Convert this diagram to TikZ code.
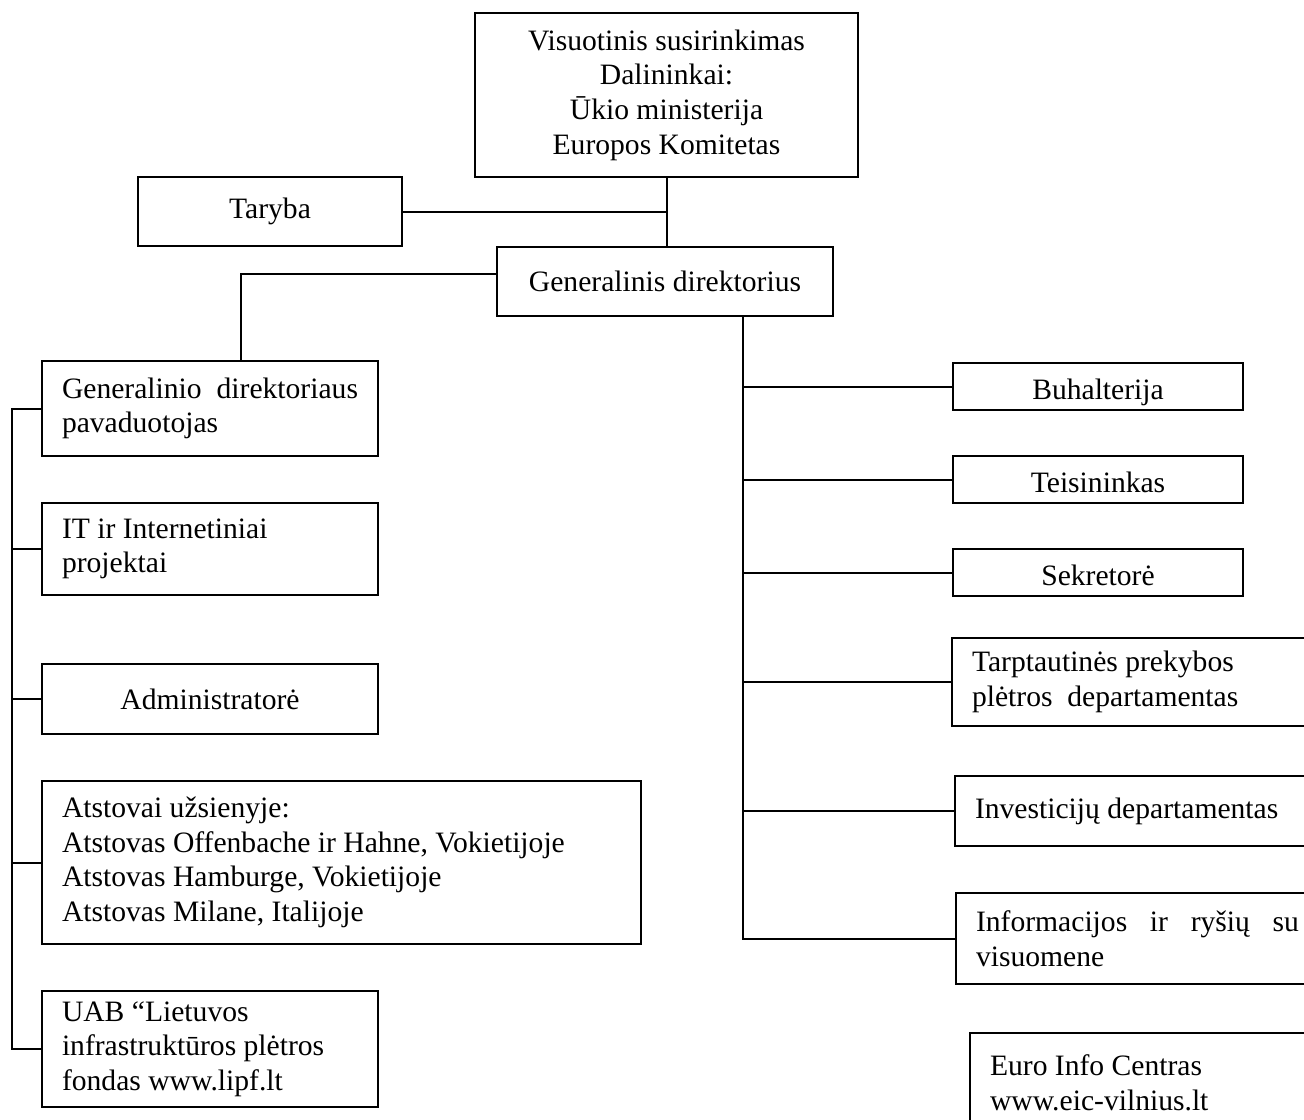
\documentclass[tikz,border=0pt]{standalone}
\usepackage{fontspec}
\setmainfont{Liberation Serif}
\usetikzlibrary{positioning,calc}

\begin{document}
\begin{tikzpicture}[
        x=0.5pt, y=-0.5pt,
        box/.style={
            draw=black,
            line width=1pt,
            anchor=north west,
            align=center,
            inner sep=0pt,
            font=\fontsize{14.8}{17.3}\selectfont
        },
        boxL/.style={
            box,
            align=justify,
            inner xsep=10pt
        },
        low/.style={text height=13.5pt, text depth=1pt},
        conn/.style={line width=1pt, draw=black}
    ]
        \useasboundingbox (0,0) rectangle (1304,1119);

        \node[box, minimum width=191.5pt, minimum height=82pt] (vis) at (474,12) {Visuotinis susirinkimas\\Dalininkai:\\Ūkio ministerija\\Europos Komitetas};
        \node[box, minimum width=132pt, minimum height=34.5pt] (taryba) at (137,176) {Taryba};
        \node[box, minimum width=168pt, minimum height=34.5pt] (gendir) at (496,246) {Generalinis direktorius};

        \node[boxL, text width=148pt, minimum height=47.5pt] (deputy) at (41,360) {Generalinio\hfill direktoriaus\\pavaduotojas};
        \node[boxL, text width=148pt, minimum height=46pt] (it) at (41,502) {IT ir Internetiniai\\projektai};
        \node[box, minimum width=168pt, minimum height=35pt] (admin) at (41,663) {Administratorė};
        \node[boxL, text width=279.5pt, minimum height=81.5pt] (atst) at (41,780) {Atstovai užsienyje:\\Atstovas Offenbache ir Hahne, Vokietijoje\\Atstovas Hamburge, Vokietijoje\\Atstovas Milane, Italijoje};
        \node[boxL, text width=148pt, minimum height=58pt] (uab) at (41,990) {UAB “Lietuvos\\infrastruktūros plėtros\\fondas www.lipf.lt};

        \node[box, low, minimum width=145pt, minimum height=23.5pt] (buh) at (952,362) {Buhalterija};
        \node[box, low, minimum width=145pt, minimum height=23.5pt] (teis) at (952,455) {Teisininkas};
        \node[box, low, minimum width=145pt, minimum height=23.5pt] (sekr) at (952,548) {Sekretorė};
        \node[boxL, text width=164.5pt, minimum height=44pt] (tarpt) at (951,637) {Tarptautinės prekybos\\plėtros\ \ departamentas};
        \node[boxL, text width=163pt, minimum height=35pt] (invest) at (954,775) {Investicijų departamentas};
        \node[boxL, text width=161.5pt, minimum height=45.5pt] (info) at (955,892) {Informacijos\hfill ir\hfill ryšių\hfill su\\visuomene};
        \node[boxL, text width=155pt, minimum height=50pt] (euro) at (969,1032) {Euro Info Centras\\www.eic-vilnius.lt};

        \coordinate (lspine) at (12,408);
        \coordinate (rspine) at (743,315);

        \draw[conn] (vis.south) -- (vis.south |- gendir.north);
        \draw[conn] (taryba.east) -- (taryba.east -| vis.south);
        \draw[conn] ([yshift=4pt]gendir.west) -| ([xshift=15.5pt]deputy.north);

        \draw[conn] (deputy.west) -- (deputy.west -| lspine) -- (uab.west -| lspine) -- (uab.west);
        \foreach \n in {it,admin,atst}
            \draw[conn] (\n.west) -- (\n.west -| lspine);

        \draw[conn] (gendir.south -| rspine) -- (info.west -| rspine) -- (info.west);
        \foreach \n in {buh,teis,sekr,tarpt,invest}
            \draw[conn] (\n.west) -- (\n.west -| rspine);
    \end{tikzpicture}
\end{document}
